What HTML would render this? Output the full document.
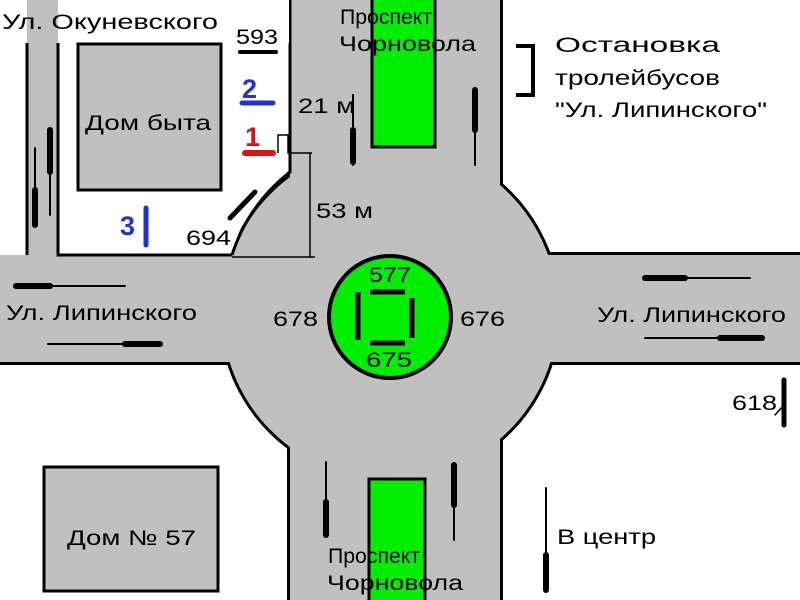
<!DOCTYPE html>
<html><head><meta charset="utf-8"><style>
html,body{margin:0;padding:0;background:#fff}
svg{display:block}
text{font-family:"Liberation Sans",sans-serif;fill:#000}
</style></head><body>
<svg width="800" height="600" viewBox="0 0 800 600" xmlns="http://www.w3.org/2000/svg">
<rect width="800" height="600" fill="#fff"/>
<g fill="#c0c0c0" stroke="#000" stroke-width="6">
  <rect x="290" y="-20" width="210" height="640"/>
  <rect x="-20" y="255" width="840" height="107"/>
  <circle cx="390" cy="312" r="168"/>
  <rect x="27" y="-20" width="31" height="290"/>
</g>
<g fill="#c0c0c0">
  <rect x="290" y="-20" width="210" height="640"/>
  <rect x="-20" y="255" width="840" height="107"/>
  <circle cx="390" cy="312" r="168"/>
  <rect x="27" y="-20" width="31" height="290"/>
</g>
<path d="M58 43 L290 43 L290 170 Q245 200 232 255 L58 255 Z" fill="#fff"/>
<path d="M58 43 V255 H232" fill="none" stroke="#000" stroke-width="3"/>
<path d="M290 0 V172 Q248 205 232 255" fill="none" stroke="#000" stroke-width="3"/>
<rect x="0" y="0" width="289" height="43" fill="#fff"/>
<rect x="27" y="0" width="31" height="43" fill="#c0c0c0"/>
<rect x="0" y="0" width="26" height="255" fill="#fff"/>
<line x1="27" y1="43" x2="27" y2="255" stroke="#000" stroke-width="3"/>
<line x1="58" y1="43" x2="58" y2="255" stroke="#000" stroke-width="3"/>
<rect x="372" y="-5" width="63" height="152" fill="#00ee00" stroke="#000" stroke-width="3"/>
<rect x="369" y="479" width="56" height="130" fill="#00ee00" stroke="#000" stroke-width="3"/>
<circle cx="390" cy="317" r="61" fill="#00ee00" stroke="#000" stroke-width="4"/>
<g stroke="#000" stroke-width="5">
  <line x1="358" y1="292" x2="358" y2="340"/>
  <line x1="412" y1="298" x2="412" y2="338"/>
  <line x1="370" y1="292" x2="405" y2="292"/>
  <line x1="370" y1="343" x2="405" y2="343"/>
</g>
<rect x="78" y="44" width="143" height="146" fill="#c0c0c0" stroke="#000" stroke-width="3"/>
<rect x="44" y="467" width="174" height="124" fill="#c0c0c0" stroke="#000" stroke-width="3"/>
<g stroke="#000" stroke-linecap="round">
  <line x1="16" y1="286" x2="125" y2="286" stroke-width="2"/><line x1="16" y1="286" x2="50" y2="286" stroke-width="6"/>
  <line x1="48" y1="344" x2="160" y2="344" stroke-width="2"/><line x1="125" y1="344" x2="160" y2="344" stroke-width="6"/>
  <line x1="645" y1="278" x2="750" y2="278" stroke-width="2"/><line x1="645" y1="278" x2="685" y2="278" stroke-width="6"/>
  <line x1="645" y1="338" x2="762" y2="338" stroke-width="2"/><line x1="720" y1="338" x2="762" y2="338" stroke-width="6"/>
  <line x1="35" y1="148" x2="35" y2="220" stroke-width="2"/><line x1="35" y1="190" x2="35" y2="225" stroke-width="6"/>
  <line x1="50" y1="130" x2="50" y2="215" stroke-width="2"/><line x1="50" y1="130" x2="50" y2="172" stroke-width="6"/>
  <line x1="353" y1="95" x2="353" y2="165" stroke-width="2"/><line x1="353" y1="130" x2="353" y2="162" stroke-width="6"/>
  <line x1="475" y1="90" x2="475" y2="165" stroke-width="2"/><line x1="475" y1="90" x2="475" y2="130" stroke-width="6"/>
  <line x1="326" y1="462" x2="326" y2="535" stroke-width="2"/><line x1="326" y1="502" x2="326" y2="535" stroke-width="6"/>
  <line x1="454" y1="465" x2="454" y2="540" stroke-width="2"/><line x1="454" y1="465" x2="454" y2="505" stroke-width="6"/>
  <line x1="546" y1="488" x2="546" y2="590" stroke-width="2"/><line x1="546" y1="555" x2="546" y2="590" stroke-width="6"/>
  <line x1="784" y1="380" x2="784" y2="425" stroke-width="5"/>
  <line x1="775" y1="415" x2="784" y2="405" stroke-width="1.5"/>
  <line x1="240" y1="52" x2="276" y2="52" stroke-width="4"/>
  <line x1="230" y1="218" x2="255" y2="192" stroke-width="5"/>
</g>
<line x1="242" y1="103" x2="273" y2="103" stroke="#2233cc" stroke-width="5" stroke-linecap="round"/>
<line x1="245" y1="153" x2="273" y2="153" stroke="#dd1111" stroke-width="6" stroke-linecap="round"/>
<line x1="146" y1="208" x2="146" y2="245" stroke="#2233cc" stroke-width="5" stroke-linecap="round"/>
<g stroke="#000" stroke-width="1.5" fill="none">
  <path d="M278 153 V135 H288 V153 H312"/>
  <line x1="310" y1="153" x2="310" y2="258"/>
  <line x1="232" y1="257" x2="315" y2="257"/>
</g>
<path d="M516 46 H533 V95 H516" fill="none" stroke="#000" stroke-width="4"/>
<g font-size="21" lengthAdjust="spacingAndGlyphs">
  <text x="2" y="29" textLength="216" lengthAdjust="spacingAndGlyphs">Ул. Окуневского</text>
  <text x="236" y="44" textLength="42" lengthAdjust="spacingAndGlyphs">593</text>
  <text x="85" y="130" textLength="126" lengthAdjust="spacingAndGlyphs">Дом быта</text>
  <text x="298" y="113" textLength="57" lengthAdjust="spacingAndGlyphs">21 м</text>
  <text x="316" y="218" textLength="57" lengthAdjust="spacingAndGlyphs">53 м</text>
  <text x="186" y="245" textLength="45" lengthAdjust="spacingAndGlyphs">694</text>
  <text x="6" y="320" textLength="191" lengthAdjust="spacingAndGlyphs">Ул. Липинского</text>
  <text x="597" y="322" textLength="189" lengthAdjust="spacingAndGlyphs">Ул. Липинского</text>
  <text x="273" y="326" textLength="45" lengthAdjust="spacingAndGlyphs">678</text>
  <text x="460" y="326" textLength="45" lengthAdjust="spacingAndGlyphs">676</text>
  <text x="369" y="282" textLength="42" lengthAdjust="spacingAndGlyphs">577</text>
  <text x="366" y="367" textLength="46" lengthAdjust="spacingAndGlyphs">675</text>
  <text x="732" y="410" textLength="45" lengthAdjust="spacingAndGlyphs">618</text>
  <text x="340" y="24" textLength="92" lengthAdjust="spacingAndGlyphs">Проспект</text>
  <text x="339" y="51" textLength="137" lengthAdjust="spacingAndGlyphs">Чорновола</text>
  <text x="555" y="52" textLength="165" lengthAdjust="spacingAndGlyphs">Остановка</text>
  <text x="555" y="85" textLength="165" lengthAdjust="spacingAndGlyphs">тролейбусов</text>
  <text x="555" y="117" textLength="212" lengthAdjust="spacingAndGlyphs">"Ул. Липинского"</text>
  <text x="67" y="545" textLength="129" lengthAdjust="spacingAndGlyphs">Дом № 57</text>
  <text x="328" y="563" textLength="92" lengthAdjust="spacingAndGlyphs">Проспект</text>
  <text x="327" y="590" textLength="136" lengthAdjust="spacingAndGlyphs">Чорновола</text>
  <text x="557" y="544" textLength="99" lengthAdjust="spacingAndGlyphs">В центр</text>
</g>
<text x="242" y="98" font-size="27" font-weight="bold" style="fill:#2233cc">2</text>
<text x="245" y="146" font-size="27" font-weight="bold" style="fill:#dd1111">1</text>
<text x="120" y="235" font-size="27" font-weight="bold" style="fill:#2233cc">3</text>
</svg>
</body></html>
